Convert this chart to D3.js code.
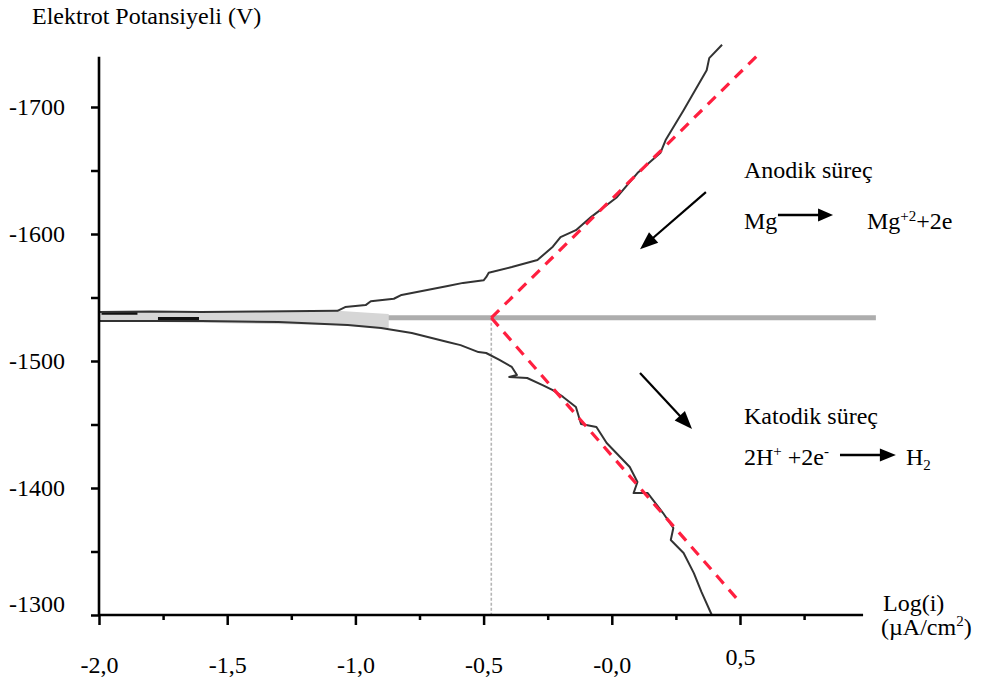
<!DOCTYPE html>
<html>
<head>
<meta charset="utf-8">
<script src="https://cdn.jsdelivr.net/npm/d3@7"></script>
<style>
  body { margin: 0; background: #fff; }
  svg { display: block; }
</style>
</head>
<body>
<svg id="chart" width="984" height="684"></svg>
<script>
// Potentiodynamic (Tafel) polarisation curve of magnesium

// Anodic branch: log current density vs electrode potential (mV)
const anodicLog = [-2.00, -1.80, -1.60, -1.37, -1.07, -1.04, -0.96, -0.94, -0.85, -0.82,
                   -0.78, -0.64, -0.58, -0.50, -0.49, -0.48, -0.39, -0.29, -0.23, -0.20,
                   -0.14, -0.08, 0.02, 0.10, 0.19, 0.21, 0.28, 0.37, 0.38, 0.43];
const anodicE   = [-1538.5, -1539, -1538.5, -1539, -1539.5, -1542.5, -1544, -1547, -1549, -1552,
                   -1553.5, -1559, -1561.5, -1563.5, -1566, -1569.5, -1574, -1579.5, -1590, -1597.5,
                   -1603, -1613.5, -1629, -1648, -1664, -1674, -1697.5, -1729, -1738.5, -1749];

// Cathodic branch
const cathodicLog = [-2.00, -1.60, -1.30, -1.03, -0.90, -0.78, -0.64, -0.59, -0.52, -0.49,
                     -0.44, -0.39, -0.37, -0.40, -0.33, -0.27, -0.23, -0.19, -0.14, -0.12,
                     -0.06, -0.02, 0.07, 0.10, 0.085, 0.14, 0.20, 0.24, 0.23, 0.28,
                     0.32, 0.35, 0.39];
const cathodicE   = [-1531.5, -1531.5, -1530.7, -1528.3, -1526, -1522, -1515, -1512.5, -1507, -1506.3,
                     -1501, -1495.3, -1489, -1487.4, -1486.6, -1481, -1477, -1471.7, -1463.8, -1450.4,
                     -1448, -1435.4, -1416.5, -1404.7, -1396, -1396, -1380.3, -1368.5, -1359, -1348.8,
                     -1333, -1318, -1300];

// Noisy band near the open-circuit potential
const bandLog    = [-2.00, -1.07, -0.95, -0.87];
const bandTop    = [-1538.5, -1539.5, -1538, -1537];
const bandBottom = [-1531.5, -1528.3, -1526.5, -1525.5];
const darkStrokeFrom = [-1.99, -1.77];
const darkStrokeTo   = [-1.85, -1.61];
const darkStrokeE    = [-1537.8, -1533.2];

// Corrosion point and Tafel extrapolations
const corrLog = -0.47;
const corrE = -1534;
const corrLineEndLog = 1.03;
const anodicTafelEnd = [0.58, -1743];
const cathodicTafelEnd = [0.50, -1310];

// Axes
const xTickValues = [-2, -1.75, -1.5, -1.25, -1, -0.75, -0.5, -0.25, 0, 0.25, 0.5, 0.75];
const xMajorValues = [-2, -1.5, -1, -0.5, 0, 0.5];
const xTickLabels = ["-2,0", "-1,5", "-1,0", "-0,5", "-0,0", "0,5"];
const yTickValues = [-1700, -1650, -1600, -1550, -1500, -1450, -1400, -1350, -1300];
const yMajorValues = [-1700, -1600, -1500, -1400, -1300];
const yTickLabels = ["-1700", "-1600", "-1500", "-1400", "-1300"];
const xAxisEnd = 0.98;
const yAxisTop = -1739.5;

// Process arrows (data coordinates)
const anodicArrow = [[0.367, -1633], [0.110, -1588]];
const cathodicArrow = [[0.110, -1490.6], [0.313, -1446.5]];
const anodicReactionArrow = [[0.648, -1615], [0.863, -1615]];
const cathodicReactionArrow = [[0.890, -1426], [1.108, -1426]];

const svg = d3.select("#chart");
const FONT = "24px";
const SERIF = "'Liberation Serif', 'Times New Roman', Times, 'DejaVu Serif', serif";

const x = d3.scaleLinear().domain([-2, 0.5]).range([99, 740]);
const y = d3.scaleLinear().domain([-1700, -1300]).range([107, 615]);

function label(sel) {
  return sel.style("font-family", SERIF).style("font-size", FONT).style("fill", "#000");
}

// Reference line at the corrosion potential
svg.append("line")
  .attr("x1", x(-2)).attr("x2", x(corrLineEndLog))
  .attr("y1", y(corrE)).attr("y2", y(corrE))
  .attr("stroke", "#adadad").attr("stroke-width", 5);

// Band near E_corr
const band = bandLog.map((l, i) => [l, bandTop[i]])
  .concat(bandLog.map((l, i) => [l, bandBottom[i]]).reverse());
svg.append("path")
  .attr("d", d3.line().x(d => x(d[0])).y(d => y(d[1]))(band) + "Z")
  .attr("fill", "#d6d6d6").attr("stroke", "none");

darkStrokeFrom.forEach((l, i) => {
  svg.append("line")
    .attr("x1", x(l)).attr("x2", x(darkStrokeTo[i]))
    .attr("y1", y(darkStrokeE[i])).attr("y2", y(darkStrokeE[i]))
    .attr("stroke", "#111").attr("stroke-width", 3.5);
});

// Vertical dotted line at log(i_corr)
svg.append("line")
  .attr("x1", x(corrLog)).attr("x2", x(corrLog))
  .attr("y1", y(corrE)).attr("y2", y(-1300))
  .attr("stroke", "#b5b5b5").attr("stroke-width", 1.6)
  .attr("stroke-dasharray", "3,2");

// Measured curves
const line = d3.line().x(d => x(d[0])).y(d => y(d[1]));
const anodic = anodicLog.map((l, i) => [l, anodicE[i]]);
const cathodic = cathodicLog.map((l, i) => [l, cathodicE[i]]);
[anodic, cathodic].forEach(data => {
  svg.append("path")
    .attr("d", line(data))
    .attr("fill", "none").attr("stroke", "#333")
    .attr("stroke-width", 2).attr("stroke-linejoin", "round");
});

// Tafel extrapolation lines
[anodicTafelEnd, cathodicTafelEnd].forEach(end => {
  svg.append("line")
    .attr("x1", x(corrLog)).attr("y1", y(corrE))
    .attr("x2", x(end[0])).attr("y2", y(end[1]))
    .attr("stroke", "#ff1f3f").attr("stroke-width", 3.2)
    .attr("stroke-dasharray", "11,8");
});

// Y axis
const yAxis = d3.axisLeft(y)
  .tickValues(yTickValues)
  .tickSize(8)
  .tickPadding(26)
  .tickFormat(d => {
    const k = yMajorValues.indexOf(d);
    return k >= 0 ? yTickLabels[k] : "";
  });
const gy = svg.append("g").attr("transform", "translate(99,0)").call(yAxis);
gy.select(".domain").remove();
gy.selectAll(".tick line").attr("stroke", "#000").attr("stroke-width", 2.5);
label(gy.selectAll(".tick text"))
  .attr("dy", d => d === -1300 ? "-0.15em" : "0.33em");
svg.append("line")
  .attr("x1", 99).attr("x2", 99)
  .attr("y1", y(yAxisTop)).attr("y2", y(-1300))
  .attr("stroke", "#000").attr("stroke-width", 2.6);

// X axis
const xAxis = d3.axisBottom(x)
  .tickValues(xTickValues)
  .tickSize(10)
  .tickFormat(d => {
    const k = xMajorValues.indexOf(d);
    return k >= 0 ? xTickLabels[k] : "";
  });
const gx = svg.append("g").attr("transform", `translate(0,${y(-1300)})`).call(xAxis);
gx.select(".domain").remove();
gx.selectAll(".tick line")
  .attr("stroke", "#000").attr("stroke-width", 2.5)
  .attr("y2", d => xMajorValues.indexOf(d) >= 0 ? 10 : 5);
label(gx.selectAll(".tick text"))
  .attr("dy", 0)
  .attr("y", d => d === 0.5 ? 50 : 58);
svg.append("line")
  .attr("x1", x(-2)).attr("x2", x(xAxisEnd))
  .attr("y1", y(-1300)).attr("y2", y(-1300))
  .attr("stroke", "#000").attr("stroke-width", 2.6);

// Axis titles
label(svg.append("text")).attr("x", 32).attr("y", 24).text("Elektrot Potansiyeli (V)");
label(svg.append("text")).attr("x", 883).attr("y", 611).text("Log(i)");
const unit = label(svg.append("text")).attr("x", 881).attr("y", 635);
unit.append("tspan").text("(\u00B5A/cm");
unit.append("tspan").attr("dy", -9).style("font-size", "15px").text("2");
unit.append("tspan").attr("dy", 9).text(")");

// Arrows
function arrow(p0, p1, headLen, headW, width) {
  const x0 = x(p0[0]), y0 = y(p0[1]), x1 = x(p1[0]), y1 = y(p1[1]);
  const dx = x1 - x0, dy = y1 - y0, len = Math.hypot(dx, dy);
  const ux = dx / len, uy = dy / len;
  const bx = x1 - ux * headLen, by = y1 - uy * headLen;
  svg.append("line")
    .attr("x1", x0).attr("y1", y0).attr("x2", bx + ux * 2).attr("y2", by + uy * 2)
    .attr("stroke", "#000").attr("stroke-width", width);
  svg.append("polygon")
    .attr("points", [
      [x1, y1],
      [bx - uy * headW / 2, by + ux * headW / 2],
      [bx + uy * headW / 2, by - ux * headW / 2]
    ].map(p => p.join(",")).join(" "))
    .attr("fill", "#000");
}
arrow(anodicArrow[0], anodicArrow[1], 18, 14, 2.2);
arrow(cathodicArrow[0], cathodicArrow[1], 18, 14, 2.2);
arrow(anodicReactionArrow[0], anodicReactionArrow[1], 15, 13, 2.6);
arrow(cathodicReactionArrow[0], cathodicReactionArrow[1], 16, 13, 2.6);

// Process annotations
label(svg.append("text")).attr("x", 744).attr("y", 178).text("Anodik süreç");
label(svg.append("text")).attr("x", 744).attr("y", 229).text("Mg");
const mgIon = label(svg.append("text")).attr("x", 867).attr("y", 229);
mgIon.append("tspan").text("Mg");
mgIon.append("tspan").attr("dy", -8).style("font-size", "15px").text("+2");
mgIon.append("tspan").attr("dy", 8).text("+2e");

label(svg.append("text")).attr("x", 744).attr("y", 424).text("Katodik süreç");
const hIon = label(svg.append("text")).attr("x", 744).attr("y", 465);
hIon.append("tspan").text("2H");
hIon.append("tspan").attr("dy", -9).style("font-size", "15px").text("+");
hIon.append("tspan").attr("dy", 9).text(" +2e");
hIon.append("tspan").attr("dy", -9).style("font-size", "15px").text("-");
const h2 = label(svg.append("text")).attr("x", 906).attr("y", 465);
h2.append("tspan").text("H");
h2.append("tspan").attr("dy", 5).style("font-size", "15px").text("2");
</script>
</body>
</html>
